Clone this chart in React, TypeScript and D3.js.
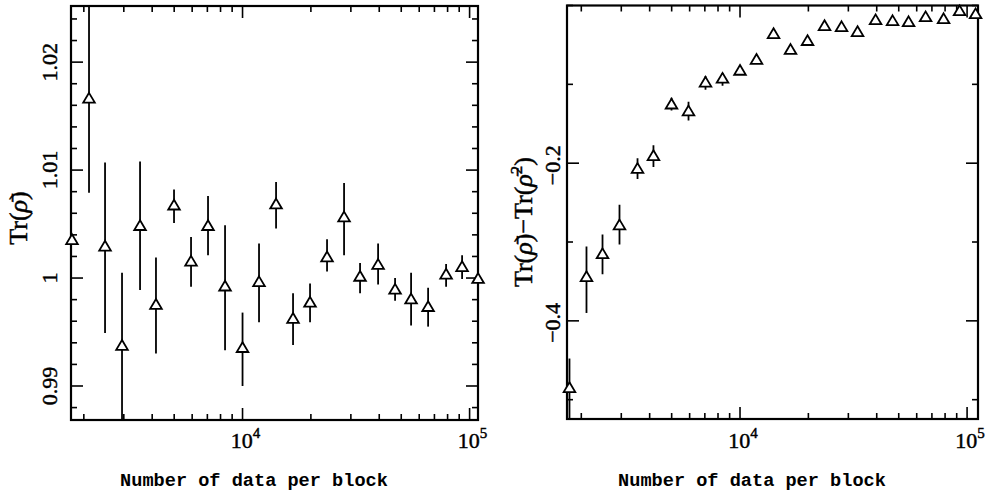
import React from "react";
import * as d3 from "d3";

// Number of data per block (shared by both panels)
const blockSizes = [
  1774, 2108, 2480, 2946, 3537, 4157, 4992, 5932, 7047, 8375, 10000, 11820, 14050,
  16690, 19830, 23560, 28000, 32930, 39540, 46970, 55250, 65660, 78800, 92680, 109000,
];

// Left panel: Tr(rho-bar) with error bars
const traceMean = [
  1.0035, 1.0166, 1.0029, 0.9937, 1.0048, 0.9975, 1.0067, 1.0015, 1.0048, 0.9992, 0.9935,
  0.9996, 1.0068, 0.9962, 0.9977, 1.0019, 1.0056, 1.0001, 1.0012, 0.9989, 0.998, 0.9973,
  1.0003, 1.001, 0.9999,
];
const traceUpper = [
  1.0035, 1.0256, 1.0107, 1.0005, 1.0108, 1.0019, 1.0082, 1.0038, 1.0076, 1.0049, 0.9968,
  1.0032, 1.0089, 0.9986, 0.9995, 1.0036, 1.0088, 1.0014, 1.0032, 1.0, 1.0005, 0.9991,
  1.0013, 1.0021, 1.0004,
];
const traceLower = [
  1.0035, 1.0079, 0.9949, 0.986, 0.9989, 0.993, 1.0051, 0.9992, 1.0021, 0.9933, 0.99,
  0.9959, 1.0046, 0.9938, 0.9959, 1.0006, 1.0021, 0.9986, 0.9994, 0.9979, 0.9956, 0.9955,
  0.9992, 0.9999, 0.9995,
];

// Right panel: Tr(rho-bar) - Tr(rho-bar^2) with error bars
const purityMean = [
  -0.4855, -0.3447, -0.3157, -0.2792, -0.2075, -0.1912, -0.1258, -0.1346, -0.0981, -0.0931,
  -0.083, -0.0692, -0.0365, -0.0566, -0.0453, -0.0264, -0.0277, -0.0339, -0.0189, -0.0201,
  -0.0214, -0.0151, -0.0176, -0.0075, -0.0113,
];
const purityUpper = [
  -0.4478, -0.3057, -0.2906, -0.2528, -0.1937, -0.1774, -0.117, -0.122, -0.0893, -0.0855,
  -0.078, -0.065, -0.0325, -0.0527, -0.0416, -0.023, -0.0245, -0.031, -0.016, -0.017,
  -0.0185, -0.012, -0.015, -0.005, -0.008,
];
const purityLower = [
  -0.53, -0.39, -0.3409, -0.3031, -0.2201, -0.205, -0.1333, -0.146, -0.1069, -0.1019,
  -0.088, -0.0735, -0.0405, -0.0605, -0.049, -0.03, -0.031, -0.037, -0.022, -0.023,
  -0.024, -0.018, -0.02, -0.01, -0.014,
];

const xTickExponents = ["4", "5"];
const xTickValues = [1e4, 1e5];
const leftYTicks = [0.99, 1, 1.01, 1.02];
const leftYTickLabels = ["0.99", "1", "1.01", "1.02"];
const rightYTicks = [-0.4, -0.2];
const rightYTickLabels = ["\u22120.4", "\u22120.2"];
const xTitle = "Number of data per block";

const SERIF = "'Liberation Serif', 'Times New Roman', serif";
const MONO = "'Liberation Mono', 'Courier New', monospace";

type PanelProps = {
  id: string;
  x0: number;
  x1: number;
  y0: number;
  y1: number;
  xDomain: [number, number];
  yDomain: [number, number];
  mean: number[];
  upper: number[];
  lower: number[];
  yTicks: number[];
  yTickLabels: string[];
  yMinorCount: number;
  yLabelX: number;
  yLabelDy: number;
  titleX: number;
  title: React.ReactNode;
};

function Panel(p: PanelProps) {
  const x = d3.scaleLog().domain(p.xDomain).range([p.x0, p.x1]);
  const y = d3.scaleLinear().domain(p.yDomain).range([p.y1, p.y0]);
  const xTicksAll = x.ticks();
  const isMajorX = (v: number) => Math.abs(Math.log10(v) - Math.round(Math.log10(v))) < 1e-6;
  const yMinor = y.ticks(p.yMinorCount);
  const isMajorY = (v: number) => p.yTicks.some((t) => Math.abs(t - v) < 1e-9);
  const MAJ = 12;
  const MIN = 6;
  const tickLines: JSX.Element[] = [];
  xTicksAll.forEach((v, i) => {
    const len = isMajorX(v) ? MAJ : MIN;
    const xx = x(v);
    tickLines.push(<line key={`xb${i}`} x1={xx} x2={xx} y1={p.y1} y2={p.y1 - len} />);
    tickLines.push(<line key={`xt${i}`} x1={xx} x2={xx} y1={p.y0} y2={p.y0 + len} />);
  });
  yMinor.forEach((v, i) => {
    const len = isMajorY(v) ? MAJ : MIN;
    const yy = y(v);
    tickLines.push(<line key={`yl${i}`} x1={p.x0} x2={p.x0 + len} y1={yy} y2={yy} />);
    tickLines.push(<line key={`yr${i}`} x1={p.x1} x2={p.x1 - len} y1={yy} y2={yy} />);
  });

  return (
    <g>
      <defs>
        <clipPath id={p.id}>
          <rect x={p.x0} y={p.y0} width={p.x1 - p.x0} height={p.y1 - p.y0} />
        </clipPath>
      </defs>
      <g stroke="#000" strokeWidth={1.6}>{tickLines}</g>
      <g clipPath={`url(#${p.id})`} stroke="#000" strokeWidth={1.8}>
        {blockSizes.map((n, i) => (
          <line key={i} x1={x(n)} x2={x(n)} y1={y(p.upper[i])} y2={y(p.lower[i])} />
        ))}
      </g>
      <rect
        x={p.x0}
        y={p.y0}
        width={p.x1 - p.x0}
        height={p.y1 - p.y0}
        fill="none"
        stroke="#000"
        strokeWidth={2.2}
      />
      <g fill="#fff" stroke="#000" strokeWidth={1.8} strokeLinejoin="miter">
        {blockSizes.map((n, i) => (
          <path
            key={i}
            transform={`translate(${x(n)},${y(p.mean[i])})`}
            d="M0,-6L5.8,3.8L-5.8,3.8Z"
          />
        ))}
      </g>
      <g fill="#000" stroke="#000" strokeWidth={0.45}>
        {xTickValues.map((v, i) => (
          <text
            key={i}
            x={x(v) + 3}
            y={448}
            textAnchor="middle"
            fontFamily={SERIF}
            fontSize={22}
          >
            10
            <tspan dy={-10} fontSize={15}>
              {xTickExponents[i]}
            </tspan>
          </text>
        ))}
        {p.yTicks.map((v, i) => (
          <text
            key={i}
            transform={`translate(${p.yLabelX},${y(v) + p.yLabelDy}) rotate(-90)`}
            textAnchor="middle"
            fontFamily={SERIF}
            fontSize={22}
          >
            {p.yTickLabels[i]}
          </text>
        ))}
        {p.title}
      </g>
      <text
        x={p.titleX}
        y={486}
        textAnchor="middle"
        fontFamily={MONO}
        fontWeight="bold"
        fontSize={18.6}
      >
        {xTitle}
      </text>
    </g>
  );
}

export default function App() {
  return (
    <div style={{ position: "fixed", left: 0, top: 0 }}>
      <svg width={996} height={500} style={{ display: "block", background: "#fff" }}>
        <rect width={996} height={500} fill="#fff" />
        <Panel
          id="clipL"
          x0={71}
          x1={478}
          y0={6}
          y1={420}
          xDomain={[1756, 108900]}
          yDomain={[0.98685, 1.0252]}
          mean={traceMean}
          upper={traceUpper}
          lower={traceLower}
          yTicks={leftYTicks}
          yTickLabels={leftYTickLabels}
          yMinorCount={20}
          yLabelX={57}
          yLabelDy={0}
          titleX={254}
          title={
            <text
              transform="translate(27,218) rotate(-90)"
              textAnchor="middle"
              fontFamily={SERIF}
              fontSize={26}
            >
              Tr(<tspan fontStyle="italic">{"\u03C1\u0304"}</tspan>)
            </text>
          }
        />
        <Panel
          id="clipR"
          x0={567}
          x1={978}
          y0={5.5}
          y1={419}
          xDomain={[1730, 111700]}
          yDomain={[-0.5245, 0]}
          mean={purityMean}
          upper={purityUpper}
          lower={purityLower}
          yTicks={rightYTicks}
          yTickLabels={rightYTickLabels}
          yMinorCount={5}
          yLabelX={560}
          yLabelDy={2}
          titleX={752}
          title={
            <text
              transform="translate(532,222) rotate(-90)"
              textAnchor="middle"
              fontFamily={SERIF}
              fontSize={26}
            >
              Tr(<tspan fontStyle="italic">{"\u03C1\u0304"}</tspan>){"\u2212"}Tr(
              <tspan fontStyle="italic">{"\u03C1\u0304"}</tspan>
              <tspan dy={-10} fontSize={17}>
                2
              </tspan>
              <tspan dy={10}>)</tspan>
            </text>
          }
        />
      </svg>
    </div>
  );
}
